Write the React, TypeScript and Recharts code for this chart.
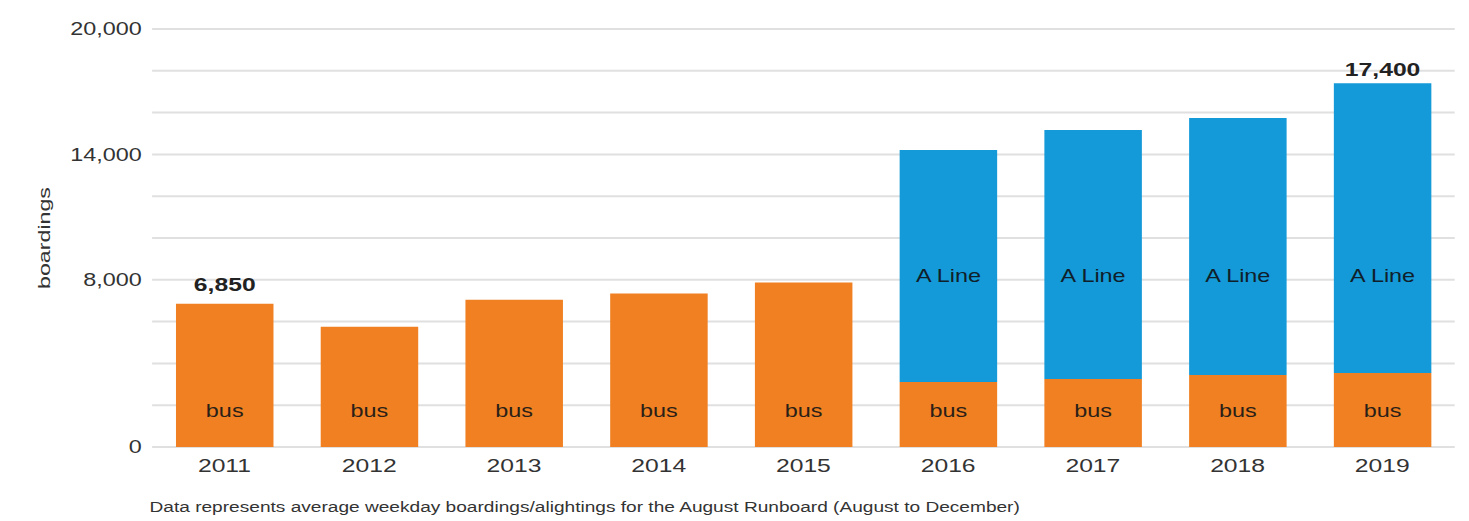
import { Bar, BarChart, CartesianGrid, LabelList, XAxis, YAxis } from "recharts";

const years = ["2011", "2012", "2013", "2014", "2015", "2016", "2017", "2018", "2019"];
const bus = [6850, 5750, 7050, 7340, 7870, 3110, 3250, 3440, 3540];
const aLine = [0, 0, 0, 0, 0, 11100, 11920, 12300, 13860];
const totalLabels = ["6,850", "", "", "", "", "", "", "", "17,400"];
const gridTicks = [0, 2000, 4000, 6000, 8000, 10000, 12000, 14000, 16000, 18000, 20000];
const labeledTicks = [0, 8000, 14000, 20000];

const ORANGE = "#f08021";
const BLUE = "#149ad8";
const FONT = "'Liberation Sans', Arial, sans-serif";

const data = years.map((y, i) => ({ year: y, bus: bus[i], aLine: aLine[i] }));

function box(p: any) {
  const vb = p.viewBox || p;
  return { x: Number(vb.x), y: Number(vb.y), w: Number(vb.width), h: Number(vb.height) };
}

// bus / A Line labels sit at fixed heights above the baseline; the total goes on top of the stack
function BarLabels(p: any) {
  const { x, y, w, h } = box(p);
  const i = p.index;
  const cx = x + w / 2;
  const bottom = y + h;
  const pxPerUnit = h / bus[i];
  const top = y - aLine[i] * pxPerUnit;
  return (
    <g>
      <text x={cx} y={bottom - 30} textAnchor="middle" fontSize={18} fill="#2a2018">
        bus
      </text>
      {aLine[i] > 0 && (
        <text x={cx} y={bottom - 165} textAnchor="middle" fontSize={18} fill="#10202a">
          A Line
        </text>
      )}
      {totalLabels[i] && (
        <text x={cx} y={top - (aLine[i] > 0 ? 7 : 13)} textAnchor="middle" fontSize={19} fontWeight="bold" fill="#222">
          {totalLabels[i]}
        </text>
      )}
    </g>
  );
}

export default function App() {
  return (
    <div style={{ position: "absolute", left: 0, top: 0, width: 1469, height: 521, background: "#fff", fontFamily: FONT }}>
      <div
        style={{
          position: "absolute",
          left: 0,
          top: 0,
          width: 1130,
          height: 521,
          transform: "scaleX(1.3)",
          transformOrigin: "0 0",
        }}
      >
        <BarChart
          width={1130}
          height={521}
          data={data}
          margin={{ top: 29, right: 11, bottom: 44, left: 17 }}
          barCategoryGap="16.5%"
        >
          <CartesianGrid vertical={false} stroke="#e0e0e0" strokeWidth={2} />
          <XAxis
            dataKey="year"
            axisLine={false}
            tickLine={false}
            tickSize={0}
            tickMargin={12}
            height={30}
            tick={{ fill: "#333", fontSize: 19 }}
          />
          <YAxis
            domain={[0, 20000]}
            ticks={gridTicks}
            interval={0}
            width={100}
            axisLine={false}
            tickLine={false}
            tickSize={0}
            tickMargin={8}
            tick={{ fill: "#333", fontSize: 18 }}
            tickFormatter={(v: number) => (labeledTicks.includes(v) ? v.toLocaleString("en-US") : "")}
          />
          <Bar dataKey="bus" stackId="a" fill={ORANGE} isAnimationActive={false}>
            <LabelList dataKey="bus" content={BarLabels} />
          </Bar>
          <Bar dataKey="aLine" stackId="a" fill={BLUE} isAnimationActive={false} />
        </BarChart>
        <div
          style={{
            position: "absolute",
            left: 115,
            top: 499,
            fontSize: 14.7,
            color: "#333",
            whiteSpace: "nowrap",
          }}
        >
          Data represents average weekday boardings/alightings for the August Runboard (August to December)
        </div>
      </div>
      <div
        style={{
          position: "absolute",
          left: 45,
          top: 238,
          fontSize: 16,
          color: "#333",
          whiteSpace: "nowrap",
          transform: "translate(-50%, -50%) rotate(-90deg) scaleX(1.45)",
        }}
      >
        boardings
      </div>
    </div>
  );
}
